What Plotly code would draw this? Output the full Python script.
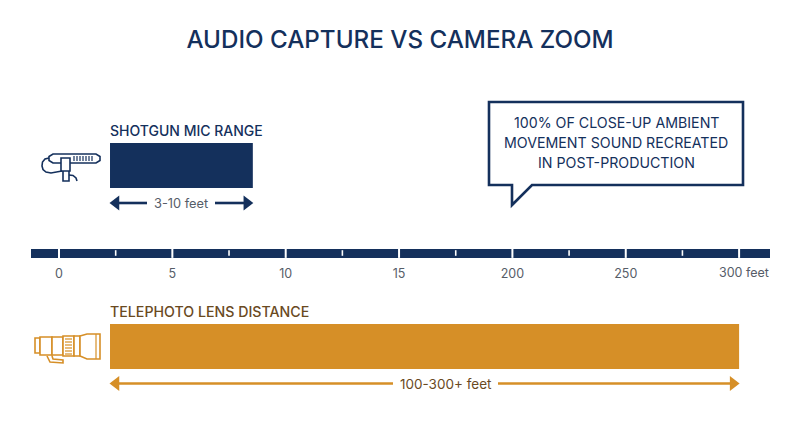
"""Audio capture vs camera zoom - range bars on a broken distance scale"""

import plotly.graph_objects as go

NAVY = '#14305c'
ORANGE = '#d68f27'
BROWN = '#6a4a1f'
GREY = '#565d68'
FONT = 'Inter'

# scale positions: the axis is evenly spaced but the labels jump from 15 to 200
tick_pos = [0, 1, 2, 3, 4, 5, 6]
tick_labels = ['0', '5', '10', '15', '200', '250', '300 feet']
minor_pos = [0.5, 1.5, 2.5, 3.5, 4.5, 5.5]

mic_label = 'SHOTGUN MIC RANGE'
mic_start = 0.45
mic_end = 1.71
mic_text = '3-10 feet'

lens_label = 'TELEPHOTO LENS DISTANCE'
lens_start = 0.45
lens_end = 6.0
lens_text = '100-300+ feet'

callout_lines = [
    '100% OF CLOSE-UP AMBIENT',
    'MOVEMENT SOUND RECREATED',
    'IN POST-PRODUCTION',
]

W, H = 800, 447
AXIS_Y = 252.5
TICK_Y = 253


def sx(px):
    # pixel -> scale position
    return (px - 59) / 113.35


def pth(points, close=False):
    # pixel points -> svg path in paper coords
    s = 'M' + ' L'.join(f'{x / W:.5f},{1 - y / H:.5f}' for x, y in points)
    return s + (' Z' if close else '')


def icon(fig, points, color, width=1.6, close=False, fill=None):
    fig.add_shape(type='path', xref='paper', yref='paper', path=pth(points, close),
                  line=dict(color=color, width=width),
                  fillcolor=fill if fill else 'rgba(0,0,0,0)')


def label(fig, x, y, text, color, size, anchor='center', weight=400):
    fig.add_annotation(xref='paper', yref='paper', x=x / W, y=1 - y / H, text=text,
                       showarrow=False, xanchor=anchor, yanchor='middle',
                       font=dict(family=FONT, size=size, color=color, weight=weight))


def range_arrow(fig, start, end, gap_l, gap_r, y, color, width, size):
    # shaft with a gap for the text, heads at both bar ends
    inset = 6 / 113.35
    fig.add_trace(go.Scatter(
        x=[start + inset, gap_l, None, gap_r, end - inset],
        y=[y, y, None, y, y],
        mode='lines', line=dict(color=color, width=width),
        hoverinfo='skip',
    ))
    fig.add_trace(go.Scatter(
        x=[start + inset, end - inset],
        y=[y, y],
        mode='markers',
        marker=dict(symbol=['triangle-left', 'triangle-right'], size=size, color=color),
        hoverinfo='skip',
    ))


fig = go.Figure()

# range bars
fig.add_trace(go.Bar(
    y=[165.5], x=[mic_end - mic_start], base=[mic_start], width=[45],
    orientation='h', marker=dict(color=NAVY, line=dict(width=0)), hoverinfo='skip',
))
fig.add_trace(go.Bar(
    y=[346.5], x=[lens_end - lens_start], base=[lens_start], width=[45],
    orientation='h', marker=dict(color=ORANGE, line=dict(width=0)), hoverinfo='skip',
))

range_arrow(fig, mic_start, mic_end, sx(147), sx(215), 203, NAVY, 2.6, 13)
range_arrow(fig, lens_start, lens_end, sx(393), sx(498), 383.5, ORANGE, 2.4, 13)

# white ticks inside the axis band
fig.add_trace(go.Scatter(
    x=tick_pos, y=[TICK_Y] * len(tick_pos), mode='markers',
    marker=dict(symbol='line-ns', size=7, line=dict(color='white', width=2)),
    hoverinfo='skip',
))
fig.add_trace(go.Scatter(
    x=minor_pos, y=[TICK_Y] * len(minor_pos), mode='markers',
    marker=dict(symbol='line-ns', size=4, line=dict(color='white', width=1.6)),
    hoverinfo='skip',
))

# callout box
icon(fig, [(489, 102), (743, 102), (743, 185), (532, 185), (512, 205), (512, 185), (489, 185)],
     NAVY, width=2.6, close=True, fill='white')
for line, y in zip(callout_lines, [123, 143, 163]):
    label(fig, 616, y, line, NAVY, 14.2)

# shotgun mic icon
icon(fig, [(53, 154), (96, 154), (100, 156.5), (100, 160.5), (96, 163), (53, 163), (49, 160.5), (49, 156.5)],
     NAVY, close=True, fill='white')
for gx in [74, 77, 80, 83, 86, 89, 92]:
    icon(fig, [(gx, 156), (gx, 161)], NAVY, width=1.2)
icon(fig, [(61, 158), (70, 158), (70, 171), (61, 171)], NAVY, close=True, fill='white')
icon(fig, [(63, 171), (63, 181), (69, 181), (69, 171)], NAVY)
icon(fig, [(69, 175), (73, 175.5), (76, 178), (77, 181)], NAVY)
icon(fig, [(49, 158), (45, 159), (42.5, 162), (42, 166), (43, 169.5), (46, 172), (51, 173), (62, 171)], NAVY)

# telephoto icon
for box in [(35, 338, 40, 353), (40, 337, 52, 355), (52, 337, 63, 355), (63, 336, 74, 356),
            (74, 336, 80, 356)]:
    x0, y0, x1, y1 = box
    icon(fig, [(x0, y0), (x1, y0), (x1, y1), (x0, y1)], ORANGE, close=True, fill='white')
icon(fig, [(80, 336), (87, 334), (100, 334), (100, 359), (87, 359), (80, 356)], ORANGE,
     close=True, fill='white')
icon(fig, [(96, 334), (96, 359)], ORANGE, width=1.2)
for gy in [339, 342, 345, 348, 351, 354]:
    icon(fig, [(65, gy), (72, gy)], ORANGE, width=1.2)
icon(fig, [(47, 356), (50, 362), (63, 363), (63, 360), (53, 359), (52, 356)], ORANGE)

# texts
label(fig, 108, 130.5, mic_label, NAVY, 14, anchor='left', weight=500)
label(fig, 108, 311.5, lens_label, BROWN, 14.2, anchor='left', weight=500)
label(fig, 181, 203, mic_text, GREY, 12.8)
label(fig, 445.5, 383.5, lens_text, BROWN, 13.5)
# last tick label runs to the end of the band instead of centring on its tick
label(fig, 771, 272, tick_labels[-1], GREY, 12.5, anchor='right')

fig.update_layout(
    title=dict(text='AUDIO CAPTURE VS CAMERA ZOOM', x=0.5, xanchor='center', y=1 - 40 / H,
               yanchor='middle', font=dict(family=FONT, size=24.2, color=NAVY, weight=500)),
    width=W,
    height=H,
    margin=dict(l=0, r=0, t=0, b=0),
    paper_bgcolor='white',
    plot_bgcolor='white',
    showlegend=False,
    barmode='overlay',
    xaxis=dict(
        domain=[31 / W, 770 / W],
        range=[sx(31), sx(770)],
        anchor='free',
        position=1 - AXIS_Y / H,
        showgrid=False,
        zeroline=False,
        showline=True,
        linecolor=NAVY,
        linewidth=9,
        layer='below traces',
        tickmode='array',
        tickvals=tick_pos[:-1],
        ticktext=tick_labels[:-1],
        ticks='',
        ticklabelstandoff=5,
        tickfont=dict(family=FONT, size=12.5, color=GREY),
        fixedrange=True,
    ),
    yaxis=dict(range=[H, 0], domain=[0, 1], visible=False, fixedrange=True),
)

fig.write_html("out.html", config=dict(displayModeBar=False),
               post_script="document.body.style.margin='0';")
